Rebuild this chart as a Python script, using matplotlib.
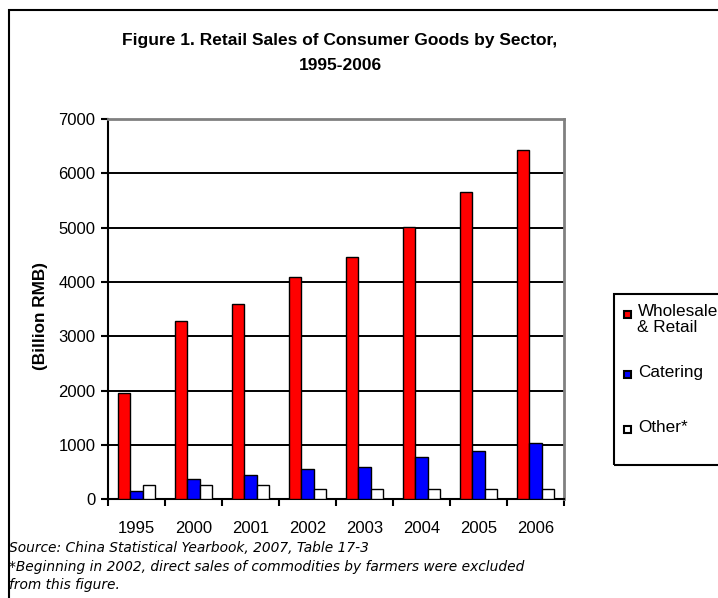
import matplotlib
matplotlib.use("Agg")
import matplotlib.pyplot as plt
import matplotlib.patches as mpatches
import numpy as np

plt.rcParams['font.family'] = ['Liberation Sans', 'DejaVu Sans']

years = ["1995", "2000", "2001", "2002", "2003", "2004", "2005", "2006"]
wholesale_retail = [1953, 3280, 3587, 4085, 4459, 5012, 5651, 6425]
catering = [158, 380, 455, 565, 602, 773, 884, 1042]
other = [258, 258, 258, 184, 184, 184, 184, 184]

series_labels = ["Wholesale\n& Retail", "Catering", "Other*"]
series_colors = ["#ff0000", "#0000ff", "#ffffff"]

W, H = 718, 598
fig = plt.figure(figsize=(W / 100, H / 100), dpi=100)

def fx(px):
    return px / W

def fy(py):
    return 1 - py / H

# outer frame (runs off the right and bottom edges)
fig.patches.append(mpatches.Rectangle((fx(9), -0.1), 1.2, fy(10) + 0.1,
                                      transform=fig.transFigure, fill=False,
                                      edgecolor="black", lw=1.5))

ax = fig.add_axes([fx(108), fy(499.3), fx(564) - fx(108), fy(119) - fy(499.3)])

x = np.arange(len(years))
bw = 0.22
for i, (vals, col) in enumerate(zip([wholesale_retail, catering, other], series_colors)):
    ax.bar(x + (i - 1) * bw, vals, bw, color=col, edgecolor="black", lw=1.0, zorder=3)

ax.set_xlim(-0.5, len(years) - 0.5)
ax.set_ylim(0, 7000)
ax.set_yticks(range(0, 7001, 1000))
ax.yaxis.grid(True, color="black", lw=1.4, zorder=0)
ax.set_axisbelow(True)

ax.set_xticks(x)
ax.set_xticklabels(years)
ax.set_xticks(np.arange(-0.5, len(years), 1), minor=True)
ax.tick_params(axis="x", which="major", length=0, pad=15.5, labelsize=12)
ax.tick_params(axis="x", which="minor", length=5, width=1.5, direction="out")
ax.tick_params(axis="y", length=5, width=1.5, direction="out", labelsize=12, pad=4)

for side in ["left", "bottom"]:
    ax.spines[side].set_color("black")
    ax.spines[side].set_linewidth(1.5)
for side in ["top", "right"]:
    ax.spines[side].set_color("#808080")
    ax.spines[side].set_linewidth(2)

ax.set_ylabel("(Billion RMB)", fontsize=12.3, fontweight="bold")
ax.yaxis.set_label_coords(-0.1316, 0.482)

fig.text(fx(340), fy(41), "Figure 1. Retail Sales of Consumer Goods by Sector,",
         ha="center", va="center", fontsize=12.5, fontweight="bold")
fig.text(fx(340), fy(66), "1995-2006", ha="center", va="center",
         fontsize=12.5, fontweight="bold")

# legend box, clipped by the right edge
fig.patches.append(mpatches.Rectangle((fx(614), fy(465)), 0.3, fy(294) - fy(465),
                                      transform=fig.transFigure, fill=False,
                                      edgecolor="black", lw=1.5))
legend_rows = [312, 372, 427]
for lab, col, yy in zip(series_labels, series_colors, legend_rows):
    fig.patches.append(mpatches.Rectangle((fx(624), fy(yy + 6)), fx(7), fy(yy - 1) - fy(yy + 6),
                                          transform=fig.transFigure, facecolor=col,
                                          edgecolor="black", lw=1.5))
    first, *rest = lab.split("\n")
    fig.text(fx(638), fy(yy), first, ha="left", va="center", fontsize=12.3)
    for k, line in enumerate(rest):
        fig.text(fx(637), fy(yy + 16 * (k + 1)), line, ha="left", va="center", fontsize=12.3)

note_font = dict(family="DejaVu Sans", style="italic", fontsize=9.9, ha="left", va="center")
fig.text(fx(9), fy(548), "Source: China Statistical Yearbook, 2007, Table 17-3", **note_font)
fig.text(fx(9), fy(567), "*Beginning in 2002, direct sales of commodities by farmers were excluded", **note_font)
fig.text(fx(9), fy(585), "from this figure.", **note_font)

fig.savefig("out.png", dpi=100)
